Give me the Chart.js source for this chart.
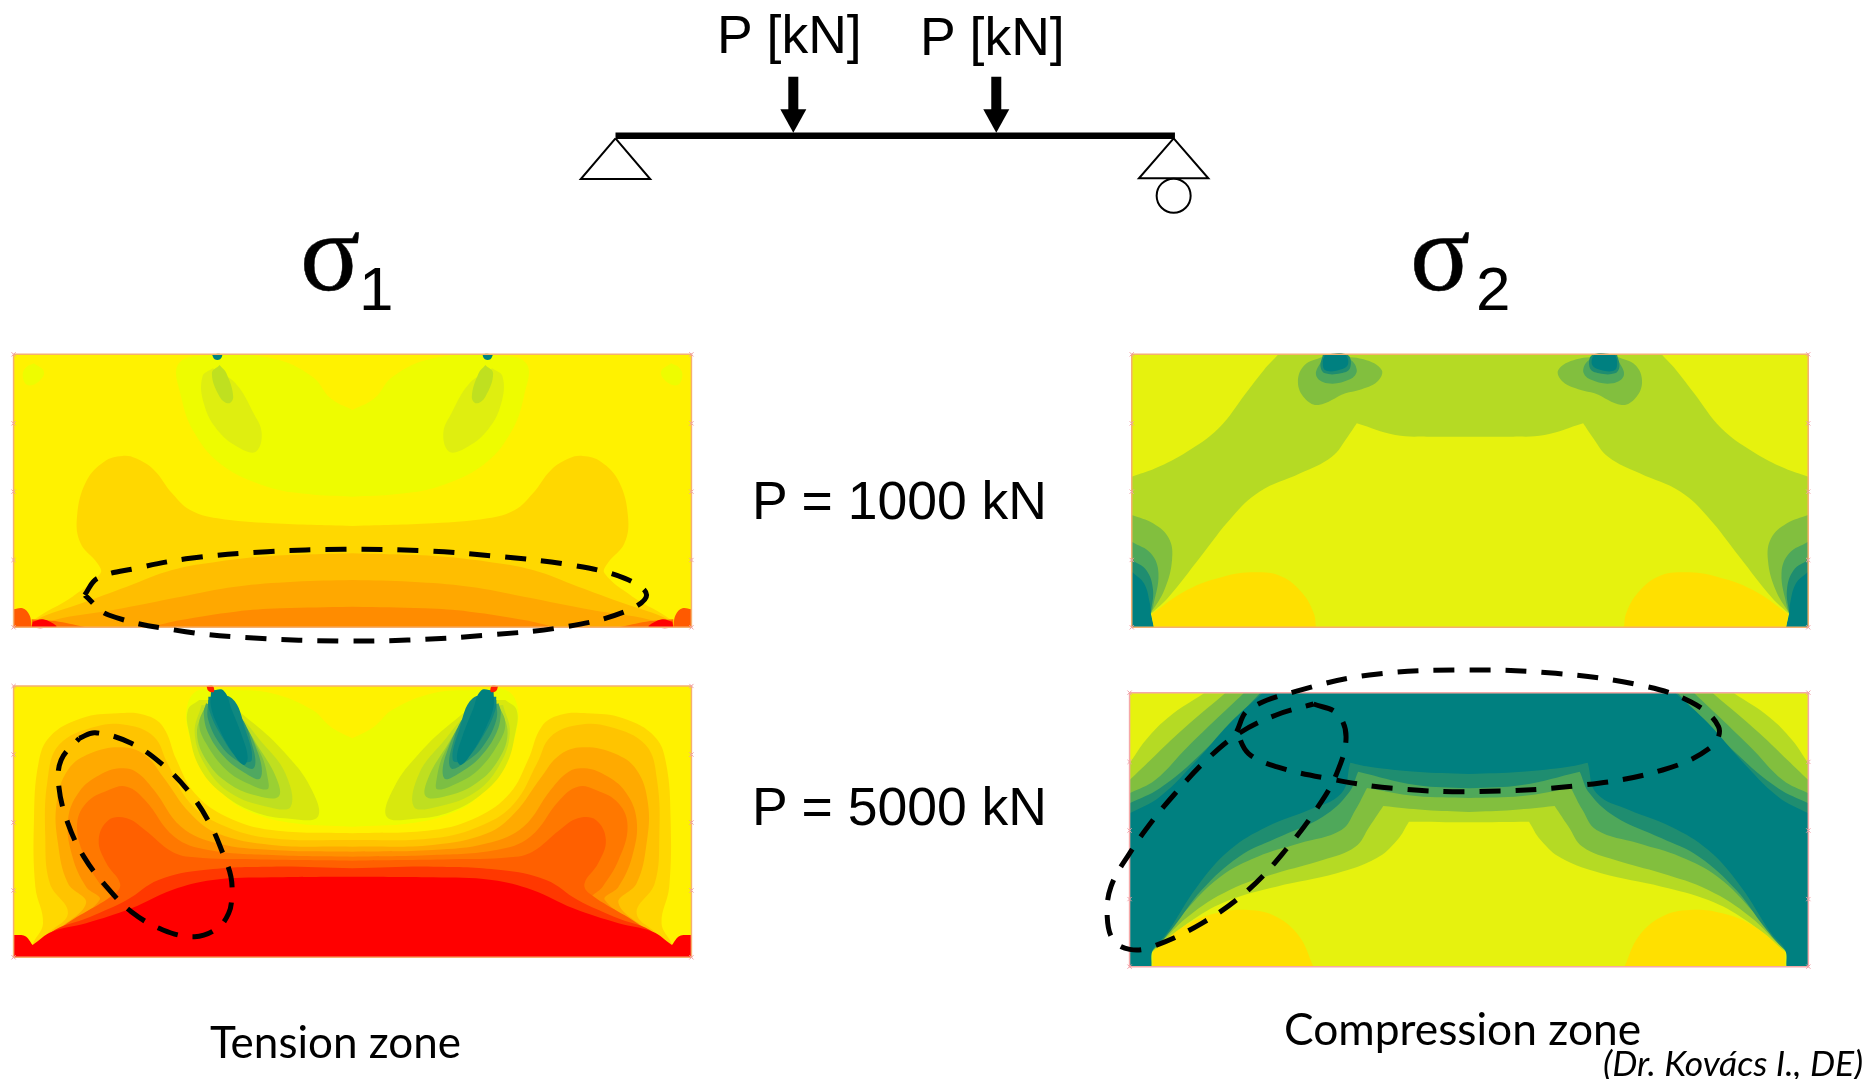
<!DOCTYPE html>
<html>
<head>
<meta charset="utf-8">
<title>Beam stress contours</title>
<script src="https://cdn.jsdelivr.net/npm/chart.js@4/dist/chart.umd.min.js"></script>
<style>
html, body { margin: 0; padding: 0; background: #fff; width: 1864px; height: 1079px; overflow: hidden; }
canvas { position: absolute; filter: blur(0.7px); }
.lbl { position: absolute; white-space: nowrap; color: #000; line-height: 1; filter: blur(0.4px); }
.arial { font-family: "Liberation Sans", sans-serif; font-size: 53.5px; }
.calibri { font-family: Lato, sans-serif; }
.sigma { font-family: "Liberation Serif", serif; font-size: 112px; -webkit-text-stroke: 0.5px #000; }
.sub { font-family: "Liberation Sans", sans-serif; font-size: 62px; }
</style>
</head>
<body>
<canvas id="beam" style="left:560px;top:0" width="680" height="230"></canvas>
<canvas id="panelA" style="left:0;top:340px" width="710" height="320"></canvas>
<canvas id="panelB" style="left:0;top:670px" width="710" height="300"></canvas>
<canvas id="panelC" style="left:1110px;top:340px" width="710" height="320"></canvas>
<canvas id="panelD" style="left:1090px;top:660px" width="730" height="320"></canvas>

<div class="lbl arial" style="left:717px;top:8px">P [kN]</div>
<div class="lbl arial" style="left:920px;top:10px">P [kN]</div>
<div class="lbl arial" style="left:752px;top:474px">P = 1000 kN</div>
<div class="lbl arial" style="left:752px;top:780px">P = 5000 kN</div>
<div class="lbl sigma" style="left:300px;top:196px">σ</div>
<div class="lbl sub" style="left:359px;top:258px">1</div>
<div class="lbl sigma" style="left:1410px;top:196px">σ</div>
<div class="lbl sub" style="left:1476px;top:258px">2</div>
<div class="lbl calibri" style="left:210px;top:1019px;font-size:44px">Tension zone</div>
<div class="lbl calibri" style="left:1284px;top:1006px;font-size:44.3px">Compression zone</div>
<div class="lbl calibri" style="left:1603px;top:1045px;font-size:35.5px;font-style:italic">(Dr. Kovács I., DE)</div>

<script>
// "half" outlines start and end on the panel's symmetry line.

// panel A, sigma 1 at P = 1000 kN
const a_pale = [[778,470],[680,462],[590,440],[490,375],[430,280],[400,170],[395,70],[470,46],[600,55],[690,110],[730,175],[778,210]];
const a_lobe = [[75,70],[97,95],[85,125],[60,135],[50,105],[58,82]];
const a_leaf1 = [[470,85],[520,130],[560,220],[578,280],[565,335],[530,325],[480,270],[450,190],[447,110]];
const a_leaf2 = [[485,75],[500,100],[515,170],[505,190],[485,170],[468,100]];
const a_dot = [[468,43],[490,43],[486,58],[474,58]];
const a_warm1 = [[778,558],[600,550],[480,535],[420,510],[380,460],[340,390],[300,355],[270,348],[230,365],[190,425],[170,530],[178,610],[215,670],[222,700],[160,770],[75,840],[75,862],[75,862],[778,862]];
const a_warm2 = [[778,640],[600,648],[480,665],[380,690],[280,740],[180,790],[80,840],[80,862],[80,862],[778,862]];
const a_warm3 = [[778,720],[650,725],[520,740],[400,770],[250,810],[120,840],[100,862],[100,862],[778,862]];
const a_warm4 = [[778,800],[620,805],[520,815],[400,840],[330,862],[330,862],[778,862]];
const a_corner1 = [[30,808],[50,805],[65,825],[70,862],[70,862],[30,862],[30,862]];
const a_corner2 = [[70,838],[130,845],[190,862],[190,862],[70,862],[70,862]];
const a_corner3 = [[72,845],[95,838],[125,858],[120,862],[72,862]];
const a_dash = [[187,765],[215,715],[300,685],[420,655],[590,635],[760,628],[930,632],[1090,648],[1260,675],[1380,715],[1428,765],[1380,815],[1250,860],[1080,885],[900,900],[750,903],[570,895],[410,875],[240,825],[187,765]];

// panel B, sigma 1 at P = 5000 kN
const b_warm = [
  [[778,490],[600,480],[500,440],[430,370],[390,270],[360,170],[320,135],[260,130],[180,145],[110,200],[85,280],[75,450],[78,650],[95,760],[72,825],[72,862],[72,862],[778,862]],
  [[778,510],[600,505],[490,465],[420,400],[370,280],[340,200],[280,165],[210,170],[130,225],[105,330],[100,500],[110,640],[150,730],[100,800],[80,862],[80,862],[778,862]],
  [[778,530],[600,525],[480,490],[420,430],[360,320],[320,255],[270,232],[200,250],[150,300],[125,400],[128,520],[150,640],[190,700],[120,790],[80,862],[80,862],[778,862]],
  [[778,545],[600,540],[480,520],[400,470],[340,360],[300,305],[265,295],[220,315],[175,365],[150,450],[160,560],[190,650],[220,690],[120,790],[80,862],[80,862],[778,862]],
  [[778,560],[600,555],[460,540],[385,500],[320,390],[280,350],[240,360],[190,400],[170,470],[190,570],[225,650],[250,690],[130,785],[85,862],[85,862],[778,862]],
  [[778,572],[560,568],[430,562],[380,545],[320,480],[280,445],[240,450],[218,510],[235,580],[265,640],[255,670],[130,780],[85,862],[85,862],[778,862]],
  [[778,595],[600,590],[450,600],[350,630],[280,690],[200,740],[110,790],[85,862],[85,862],[778,862]],
  [[778,620],[600,622],[470,630],[380,660],[290,715],[190,760],[115,785],[72,825],[72,825],[55,798],[30,795],[30,795],[30,862],[30,862],[778,862]]
];
const b_warmColors = ['#ffd800', '#ffc400', '#ffaa00', '#ff9000', '#ff7800', '#ff6000', '#ff3800', '#ff0000'];
const b_pale = [[778,470],[650,460],[560,430],[500,380],[445,280],[415,180],[415,100],[440,60],[510,60],[600,70],[690,120],[730,170],[778,205]];
const b_leaf = [
  [[440,90],[490,95],[560,160],[630,250],[685,350],[702,440],[640,446],[560,425],[490,370],[440,290],[418,190],[415,120]],
  [[445,105],[510,120],[580,220],[630,310],[642,410],[590,410],[510,370],[455,290],[430,190]],
  [[455,105],[515,130],[575,240],[612,330],[615,380],[570,378],[510,345],[460,280],[435,190]],
  [[455,105],[520,140],[575,250],[592,330],[590,358],[550,342],[500,300],[455,220],[440,160]],
  [[455,100],[525,140],[570,250],[575,325],[540,308],[495,260],[460,190],[450,130]],
  [[460,90],[525,130],[560,240],[560,295],[530,278],[490,230],[460,150]],
  [[460,80],[512,85],[542,180],[556,270],[530,270],[490,200],[462,120]],
  [[466,62],[494,62],[512,120],[535,200],[547,262],[538,285],[510,240],[482,170],[466,110]]
];
const b_leafColors = ['#d8e80e', '#bfdf20', '#9ad033', '#7cbf43', '#4fa860', '#2a9470', '#0f8880', '#008080'];
const b_red = [[456,48],[470,48],[472,66],[460,62]];
const b_dash = [[175,205],[210,188],[290,220],[360,285],[420,370],[465,465],[495,560],[510,620],[512,680],[505,730],[480,775],[430,800],[360,780],[290,725],[235,650],[185,560],[150,460],[130,350],[135,270],[175,205]];

// panel C, sigma 2 at P = 1000 kN
const c_zone = [[795,290],[700,290],[630,285],[545,250],[545,250],[525,290],[490,350],[420,400],[330,455],[270,530],[200,650],[130,770],[90,822],[90,822],[48,862],[48,862],[48,410],[48,410],[100,385],[170,335],[240,265],[300,160],[340,90],[372,43],[372,43],[795,43]];
const c_blob = [
  [[470,50],[500,50],[560,58],[600,90],[590,125],[550,150],[520,160],[460,195],[430,175],[415,125],[430,75]],
  [[470,55],[525,55],[545,90],[530,118],[480,130],[455,105]],
  [[470,45],[525,45],[530,85],[510,100],[475,100],[465,80]],
  [[475,43],[518,43],[525,75],[500,92],[475,90],[470,65]]
];
const c_side = [
  [[48,525],[95,550],[130,595],[137,660],[120,750],[90,820],[90,820],[48,862],[48,862]],
  [[48,605],[90,640],[107,700],[95,800],[90,820],[90,820],[48,862],[48,862]],
  [[48,660],[80,690],[95,750],[90,820],[90,820],[48,862],[48,862]],
  [[48,695],[75,730],[88,790],[90,820],[90,820],[97,862],[97,862],[48,862],[48,862]]
];
const c_gold = [[92,822],[92,822],[170,750],[250,710],[320,697],[380,710],[425,760],[450,820],[455,862],[455,862],[97,862],[97,862]];

// panel D, sigma 2 at P = 5000 kN
const d_bands = [
  [[814,487],[685,485],[685,485],[660,540],[615,595],[530,640],[400,680],[300,720],[220,780],[135,875],[85,920],[85,920],[85,310],[85,310],[120,240],[170,170],[245,100],[245,100],[814,100]],
  [[814,456],[720,450],[630,438],[630,438],[600,500],[570,560],[500,600],[400,640],[300,690],[210,770],[135,870],[85,920],[85,920],[85,360],[85,360],[130,300],[190,220],[290,100],[290,100],[814,100]],
  [[814,414],[700,408],[595,384],[595,384],[570,450],[540,510],[450,550],[360,590],[280,650],[200,760],[135,870],[85,920],[85,920],[85,400],[85,400],[140,360],[210,260],[330,100],[330,100],[814,100]],
  [[814,385],[700,375],[576,335],[576,335],[555,400],[500,470],[400,535],[320,590],[240,690],[180,800],[135,870],[85,920],[85,920],[85,430],[85,430],[150,385],[240,280],[365,100],[365,100],[814,100]],
  [[814,342],[700,335],[600,320],[559,308],[559,308],[540,400],[470,450],[380,500],[300,570],[230,680],[165,820],[135,870],[132,920],[132,920],[85,920],[85,920],[85,460],[85,460],[150,410],[230,300],[300,190],[370,100],[370,100],[814,100]]
];
const d_bandColors = ['#b5da24', '#82bf3e', '#4fa85a', '#1f8d70', '#008080'];
const d_gold = [[135,875],[135,875],[200,800],[270,760],[340,750],[400,770],[450,830],[480,920],[480,920],[135,920],[135,920]];
const d_dash1 = [[315,215],[340,150],[440,95],[600,45],[800,30],[1000,40],[1180,75],[1290,125],[1350,200],[1335,260],[1230,330],[1060,375],[830,395],[650,385],[520,358],[400,320],[340,280],[315,215]];
const d_dash2 = [[480,132],[530,160],[550,230],[530,340],[490,440],[420,570],[340,690],[240,790],[130,862],[85,868],[50,840],[37,770],[45,680],[85,580],[130,490],[180,405],[250,300],[320,220],[400,165],[480,132]];

// beam sketch
const beamLine = [[128,407],[1418,407]];
const loadX = [538, 1006];
const shaftY = [230, 330];
const arrowHead = [[-30,328],[30,328],[0,398]];
const supportLeft = [[128,415],[208,537],[48,537],[128,415]];
const supportRight = [[1415,415],[1495,535],[1335,535],[1415,415]];
const roller = [[1415,587]];

// tick marks on the panel edges
const tickY = [250, 455, 660];

function mirror(pts, axis) { return pts.map(p => [2 * axis - p[0], p[1]]); }
function both(half, axis) { return half.concat(mirror(half, axis).reverse()); }
function xy(pts) { return pts.map(p => ({ x: p[0], y: p[1] })); }

function area(pts, color) {
    const closed = pts.concat([pts[0]]);
    return { data: xy(closed), fill: 'shape', backgroundColor: color, borderColor: color, borderWidth: 0, pointRadius: 0, tension: 0.4 };
}
function stroke(pts, width, dash) {
    return { data: xy(pts), fill: false, borderColor: '#000', borderWidth: width, borderDash: dash || [], pointRadius: 0, tension: 0.38 };
}
function frame(x0, y0, x1, y1, color) {
    const edge = [[x0,y0],[x1,y0],[x1,y1],[x0,y1],[x0,y0]];
    const ticks = [];
    tickY.forEach(y => { ticks.push([x0, y0 + (y - 43) * (y1 - y0) / 819]); ticks.push([x1, y0 + (y - 43) * (y1 - y0) / 819]); });
    edge.slice(0, 4).forEach(p => ticks.push(p));
    return [
        { data: xy(edge), fill: false, borderColor: color, borderWidth: 1.5, pointRadius: 0, tension: 0 },
        { data: xy(ticks), showLine: false, pointStyle: 'crossRot', pointRadius: 3, borderWidth: 1, pointBorderColor: '#f0a0a8', pointBackgroundColor: '#f0a0a8' }
    ];
}

// first item is painted first; Chart.js paints the first dataset last, hence the reverse
function draw(id, w, h, layers) {
    new Chart(document.getElementById(id), {
        type: 'line',
        data: { datasets: layers.slice().reverse() },
        options: {
            responsive: false,
            animation: false,
            layout: { padding: 0, autoPadding: false },
            plugins: { legend: { display: false }, tooltip: { enabled: false } },
            scales: {
                x: { type: 'linear', min: 0, max: w, display: false },
                y: { type: 'linear', min: 0, max: h, reverse: true, display: false }
            }
        }
    });
}

const rectA = [[30,43],[30,43],[1527,43],[1527,43],[1527,862],[1527,862],[30,862],[30,862]];
const axisA = 778.5;
const layersA = [
    area(rectA, '#fff200'),
    area(both(a_pale, axisA), '#eefc00'),
    area(a_lobe, '#eefc00'), area(mirror(a_lobe, axisA), '#eefc00'),
    area(a_leaf1, '#dfee10'), area(mirror(a_leaf1, axisA), '#dfee10'),
    area(a_leaf2, '#bfe020'), area(mirror(a_leaf2, axisA), '#bfe020'),
    area(a_dot, '#008080'), area(mirror(a_dot, axisA), '#008080'),
    area(both(a_warm1, axisA), '#ffd800'),
    area(both(a_warm2, axisA), '#ffbe00'),
    area(both(a_warm3, axisA), '#ffa800'),
    area(both(a_warm4, axisA), '#ff8c00'),
    area(a_corner1, '#ff5a00'), area(mirror(a_corner1, axisA), '#ff5a00'),
    area(a_corner2, '#ff7000'), area(mirror(a_corner2, axisA), '#ff7000'),
    area(a_corner3, '#ff0000'), area(mirror(a_corner3, axisA), '#ff0000'),
    ...frame(30, 43, 1527, 862, '#f5b070'),
    stroke(a_dash, 5, [21, 15])
];

const layersB = [area(rectA.map(p => [p[0], p[1] === 43 ? 48 : p[1]]), '#fff200')];
layersB.push(area(both(b_pale, 778), '#eefc00'));
b_leaf.forEach((leaf, i) => {
    layersB.push(area(leaf, b_leafColors[i]));
    layersB.push(area(mirror(leaf, 778), b_leafColors[i]));
});
b_warm.forEach((lvl, i) => layersB.push(area(both(lvl, 778), b_warmColors[i])));
layersB.push(area(b_red, '#ff2000'), area(mirror(b_red, 778), '#ff2000'));
layersB.push(...frame(30, 48, 1527, 862, '#f5b070'));
layersB.push(stroke(b_dash, 5, [21, 15]));

const rectC = [[48,43],[48,43],[1542,43],[1542,43],[1542,862],[1542,862],[48,862],[48,862]];
const blobColors = ['#82bf3e', '#4fa85a', '#1f8d70', '#008080'];
const layersC = [area(rectC, '#e6f20e'), area(both(c_zone, 795), '#b5da24')];
c_side.forEach((s, i) => {
    layersC.push(area(s, blobColors[i]));
    layersC.push(area(mirror(s, 795), blobColors[i]));
});
c_blob.forEach((s, i) => {
    layersC.push(area(s, blobColors[i]));
    layersC.push(area(mirror(s, 795), blobColors[i]));
});
layersC.push(area(c_gold, '#ffe000'), area(mirror(c_gold, 795), '#ffe000'));
layersC.push(...frame(48, 43, 1542, 862, '#f5b070'));

const rectD = [[85,98],[85,98],[1543,98],[1543,98],[1543,920],[1543,920],[85,920],[85,920]];
const layersD = [area(rectD, '#e6f20e')];
d_bands.forEach((b, i) => layersD.push(area(both(b, 814), d_bandColors[i])));
layersD.push(area(d_gold, '#ffe000'), area(mirror(d_gold, 814), '#ffe000'));
layersD.push(...frame(85, 98, 1543, 920, '#f5a8a8'));
layersD.push(stroke(d_dash1, 5, [21, 15]), stroke(d_dash2, 5, [21, 15]));

const layersBeam = [];
loadX.forEach(x => {
    layersBeam.push({ data: xy(shaftY.map(y => [x, y])), borderColor: '#000', borderWidth: 10, pointRadius: 0, fill: false });
    layersBeam.push({ data: xy(arrowHead.map(p => [x + p[0], p[1]]).concat([[x + arrowHead[0][0], arrowHead[0][1]]])), fill: 'shape', backgroundColor: '#000', borderWidth: 0, pointRadius: 0 });
});
layersBeam.push(stroke(beamLine, 6.5));
layersBeam.push({ data: xy(supportLeft), borderColor: '#000', borderWidth: 2, pointRadius: 0, fill: false, tension: 0 });
layersBeam.push({ data: xy(supportRight), borderColor: '#000', borderWidth: 2, pointRadius: 0, fill: false, tension: 0 });
layersBeam.push({ data: xy(roller), showLine: false, pointRadius: 17, pointBackgroundColor: '#fff', pointBorderColor: '#000', pointBorderWidth: 2 });

draw('beam', 1568, 690, layersBeam);
draw('panelA', 1568, 960, layersA);
draw('panelB', 1568, 900, layersB);
draw('panelC', 1568, 960, layersC);
draw('panelD', 1568, 960, layersD);
</script>
</body>
</html>
